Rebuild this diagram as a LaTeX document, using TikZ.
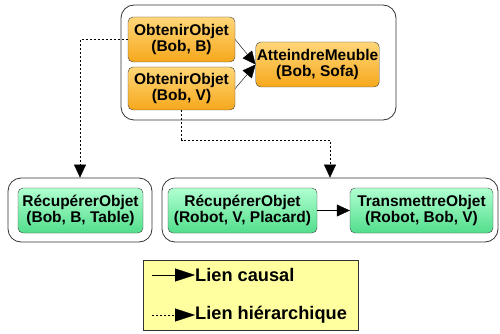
\documentclass[tikz,border=0pt]{standalone}
\usepackage{fontspec}
\setmainfont{Liberation Sans}
\usetikzlibrary{arrows.meta}
\definecolor{orangetop}{RGB}{255,214,120}
\definecolor{orangebot}{RGB}{246,168,28}
\definecolor{greentop}{RGB}{176,255,208}
\definecolor{greenbot}{RGB}{82,222,140}
\definecolor{legendyellow}{RGB}{255,255,160}

\begin{document}
\begin{tikzpicture}[x=1pt, y=-1pt,
    task/.style={draw=black!75, rounded corners=5pt, align=center, inner sep=1pt,
        font=\fontsize{15.5}{16}\selectfont\bfseries},
    orangetask/.style={task, top color=orangetop, bottom color=orangebot},
    greentask/.style={task, top color=greentop, bottom color=greenbot},
    group/.style={draw=black!80, rounded corners=13pt, thick},
    causal/.style={-{Triangle[length=13pt, width=12pt]}, thin},
    hier/.style={-{Triangle[length=13pt, width=12pt]}, thin, dash pattern=on 2pt off 2pt}]
    \useasboundingbox (0,0) rectangle (500,334);

    % Groups
    \node[group, minimum width=275, minimum height=115] (top) at (258.5,62.5) {};
    \node[group, minimum width=144, minimum height=64] (bl) at (80,210) {};
    \node[group, minimum width=336, minimum height=64] (br) at (330,210) {};

    % Top tasks
    \node[orangetask, minimum width=107, minimum height=45] (ob1) at (181.5,39.5) {ObtenirObjet\\(Bob, B)};
    \node[orangetask, minimum width=107, minimum height=43] (ob2) at (181.5,88.5) {ObtenirObjet\\(Bob, V)};
    \node[orangetask, minimum width=121, minimum height=45] (am) at (317.5,64.5) {AtteindreMeuble\\(Bob, Sofa)};

    % Bottom tasks
    \node[greentask, minimum width=125, minimum height=45] (rb) at (80.5,210.5) {RécupérerObjet\\(Bob, B, Table)};
    \node[greentask, minimum width=149, minimum height=45] (rr) at (242.5,210.5) {RécupérerObjet\\(Robot, V, Placard)};
    \node[greentask, minimum width=143, minimum height=45] (tr) at (421.5,210.5) {TransmettreObjet\\(Robot, Bob, V)};

    % Causal links
    \draw[causal] (ob1.east) -- (am.west);
    \draw[causal] (ob2.east) -- (am.west);
    \draw[causal] (rr) -- (tr);

    % Hierarchical links
    \coordinate (elbow) at (181.5,140);
    \draw[hier] (ob1.west) -| (bl.north);
    \draw[hier] (ob2.south) -- (elbow) -| (br.north);

    % Legend
    \node[draw=black!80, fill=legendyellow, minimum width=215, minimum height=70] (legend) at (250.5,295) {};
    \node[anchor=west, font=\fontsize{18.2}{20}\selectfont\bfseries, inner sep=0pt] (lc) at (195,275) {Lien causal};
    \node[anchor=west, font=\fontsize{18.2}{20}\selectfont\bfseries, inner sep=0pt] (lh) at (195,315) {Lien hiérarchique};
    \coordinate (lcstart) at (152,275);
    \coordinate (lhstart) at (152,315);
    \draw[causal, -{Triangle[length=20pt, width=13pt]}] (lcstart) -- (lc.west);
    \draw[hier, -{Triangle[length=20pt, width=13pt]}] (lhstart) -- (lh.west);
\end{tikzpicture}
\end{document}
